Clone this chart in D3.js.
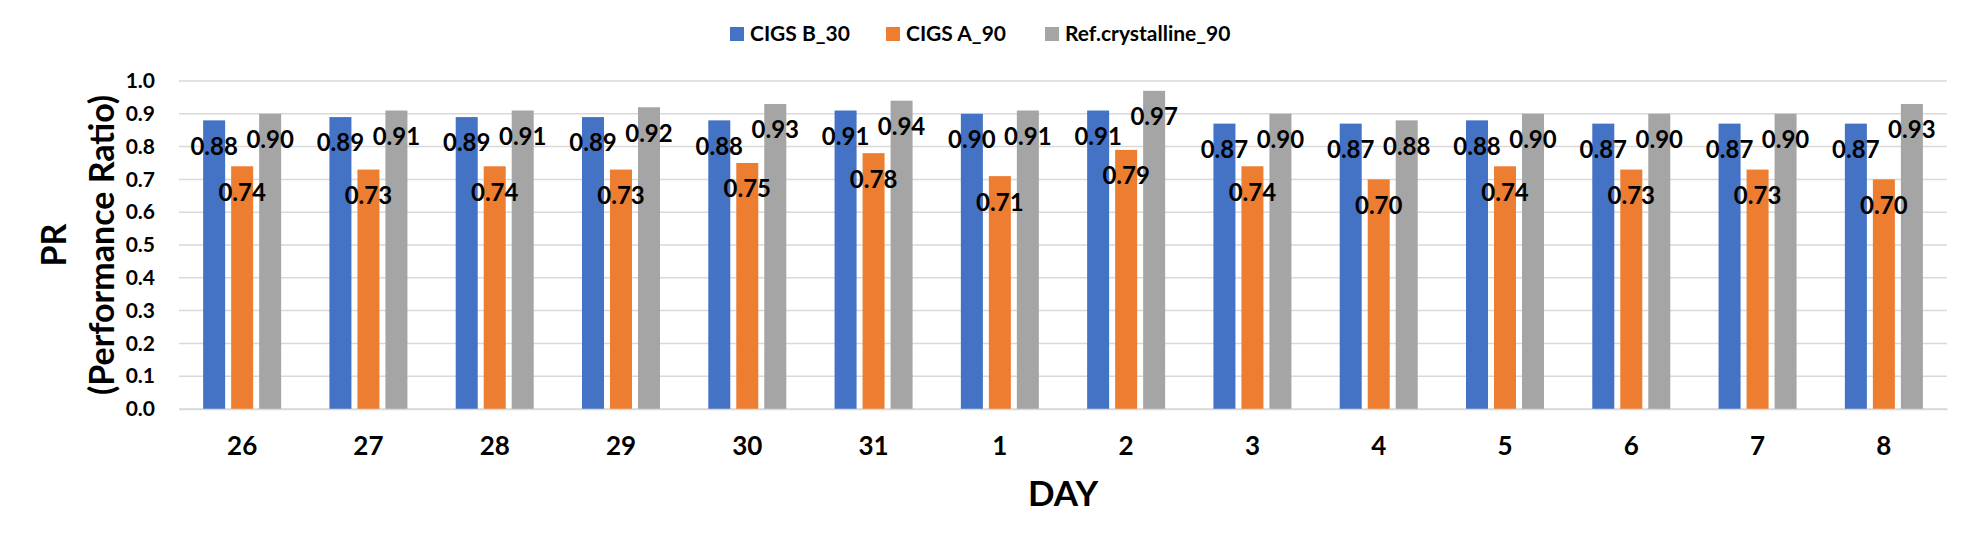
<!DOCTYPE html>
<html>
<head>
<meta charset="utf-8">
<script src="https://cdn.jsdelivr.net/npm/d3@7"></script>
<style>
  html, body { margin: 0; padding: 0; background: #fff; }
  svg { display: block; font-family: Lato, "Open Sans", sans-serif; font-weight: bold; }
</style>
</head>
<body>
<svg id="chart" width="1970" height="542"></svg>
<script>
const days = ["26","27","28","29","30","31","1","2","3","4","5","6","7","8"];
const seriesNames = ["CIGS B_30", "CIGS A_90", "Ref.crystalline_90"];
const cigsB30 = [0.88,0.89,0.89,0.89,0.88,0.91,0.90,0.91,0.87,0.87,0.88,0.87,0.87,0.87];
const cigsA90 = [0.74,0.73,0.74,0.73,0.75,0.78,0.71,0.79,0.74,0.70,0.74,0.73,0.73,0.70];
const refCryst90 = [0.90,0.91,0.91,0.92,0.93,0.94,0.91,0.97,0.90,0.88,0.90,0.90,0.90,0.93];
const yTicks = [0,0.1,0.2,0.3,0.4,0.5,0.6,0.7,0.8,0.9,1.0];
const colors = ["#4472C4", "#ED7D31", "#A5A5A5"];

const seriesValues = [cigsB30, cigsA90, refCryst90];
const rows = days.map((d, i) => ({day: d, vals: seriesValues.map((s, k) => ({key: seriesNames[k], k, v: s[i]}))}));

const svg = d3.select("#chart");
const margin = {left: 179, right: 1947, top: 81, bottom: 409};

const x0 = d3.scaleBand().domain(days).range([margin.left, margin.right]).padding(0);
const gw = 78;
const x1 = d3.scaleBand().domain(seriesNames)
  .range([(x0.bandwidth() - gw) / 2, (x0.bandwidth() + gw) / 2]).paddingInner(0.214).paddingOuter(0);
const y = d3.scaleLinear().domain([0, 1.0]).range([margin.bottom, margin.top]);
const color = d3.scaleOrdinal().domain(seriesNames).range(colors);

// gridlines
svg.append("g").selectAll("line").data(yTicks).join("line")
  .attr("x1", margin.left).attr("x2", margin.right)
  .attr("y1", d => y(d)).attr("y2", d => y(d))
  .attr("stroke", "#D9D9D9").attr("stroke-width", 1.5);

// y axis
const yAxis = d3.axisLeft(y).tickValues(yTicks).tickFormat(d3.format(".1f")).tickSize(0).tickPadding(24);
const gy = svg.append("g").attr("transform", `translate(${margin.left},0)`).call(yAxis);
gy.select(".domain").remove();
gy.selectAll("text").attr("font-size", 21).attr("font-family", "Lato").attr("font-weight", "bold").attr("fill", "#000");

// bars
const groups = svg.append("g").selectAll("g").data(rows).join("g")
  .attr("transform", d => `translate(${x0(d.day)},0)`);
groups.selectAll("rect").data(d => d.vals).join("rect")
  .attr("x", d => x1(d.key)).attr("width", x1.bandwidth())
  .attr("y", d => y(d.v)).attr("height", d => y(0) - y(d.v))
  .attr("fill", d => color(d.key));

// x axis
const xAxis = d3.axisBottom(x0).tickSize(0).tickPadding(28);
const gx = svg.append("g").attr("transform", `translate(0,${margin.bottom})`).call(xAxis);
gx.select(".domain").attr("stroke", "#D9D9D9").attr("stroke-width", 1.5);
gx.selectAll("text").attr("font-size", 26).attr("font-family", "Lato").attr("font-weight", "bold").attr("fill", "#000");

// data labels
groups.selectAll("text.lbl").data(d => d.vals).join("text")
  .attr("class", "lbl")
  .attr("x", d => x1(d.key) + x1.bandwidth() / 2)
  .attr("y", d => y(d.v) + 26)
  .attr("dy", "0.35em")
  .attr("text-anchor", "middle")
  .attr("font-size", 24)
  .attr("fill", "#000")
  .text(d => d3.format(".2f")(d.v));

// axis titles
svg.append("text").attr("x", (margin.left + margin.right) / 2).attr("y", 494).attr("dy", "0.35em")
  .attr("text-anchor", "middle").attr("font-size", 35).attr("fill", "#000").text("DAY");

const yc = (margin.top + margin.bottom) / 2;
svg.append("text").attr("transform", `translate(66,${yc}) rotate(-90)`)
  .attr("text-anchor", "middle").attr("font-size", 34).attr("fill", "#000").text("PR");
svg.append("text").attr("transform", `translate(114,${yc}) rotate(-90)`)
  .attr("text-anchor", "middle").attr("font-size", 34).attr("fill", "#000").text("(Performance Ratio)");

// legend
const legendX = [730, 886, 1045];
const leg = svg.append("g").selectAll("g").data(seriesNames).join("g")
  .attr("transform", (d, i) => `translate(${legendX[i]},34)`);
leg.append("rect").attr("x", 0).attr("y", -7).attr("width", 14).attr("height", 14).attr("fill", d => color(d));
leg.append("text").attr("x", 20).attr("y", 0).attr("dy", "0.35em").attr("font-size", 21).attr("fill", "#000").text(d => d);
</script>
</body>
</html>
